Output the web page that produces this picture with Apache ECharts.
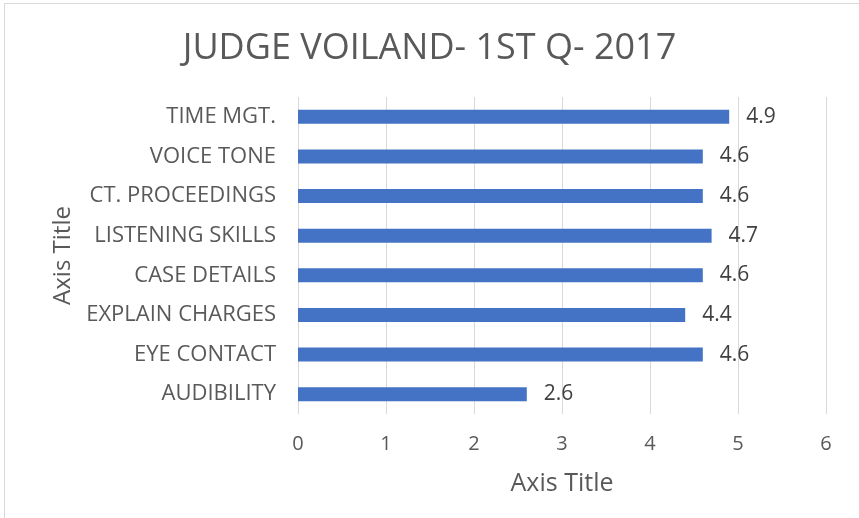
<!DOCTYPE html>
<html>
<head>
<meta charset="utf-8">
<script src="https://cdn.jsdelivr.net/npm/echarts@6/dist/echarts.min.js"></script>
<style>
html, body { margin: 0; padding: 0; background: #fff; }
#chart { width: 859px; height: 518px; }
</style>
</head>
<body>
<div id="chart"></div>
<script>
var categories = ['AUDIBILITY', 'EYE CONTACT', 'EXPLAIN CHARGES', 'CASE DETAILS',
	'LISTENING SKILLS', 'CT. PROCEEDINGS', 'VOICE TONE', 'TIME MGT.'];
var scores = [2.6, 4.6, 4.4, 4.6, 4.7, 4.6, 4.6, 4.9];
var xTicks = [0, 1, 2, 3, 4, 5, 6];

var font = '"Open Sans", "DejaVu Sans", sans-serif';
var chart = echarts.init(document.getElementById('chart'));
var option = {
	backgroundColor: '#fff',
	animation: false,
	title: {
		text: 'JUDGE VOILAND- 1ST Q- 2017',
		left: 'center',
		top: 26,
		textStyle: { fontFamily: font, fontSize: 36, fontWeight: 'normal', color: '#595959' }
	},
	graphic: [
		{
			type: 'rect',
			shape: { x: 4.5, y: 3.5, width: 860, height: 520 },
			style: { fill: 'none', stroke: '#d9d9d9', lineWidth: 1 },
			silent: true
		}
	],
	grid: { left: 298, right: 33, top: 97, bottom: 104 },
	xAxis: {
		type: 'value',
		min: xTicks[0],
		max: xTicks[xTicks.length - 1],
		interval: 1,
		name: 'Axis Title',
		nameLocation: 'middle',
		nameGap: 57,
		nameTextStyle: { fontFamily: font, fontSize: 25, color: '#595959' },
		axisLine: { show: false },
		axisTick: { show: false },
		axisLabel: { fontFamily: font, fontSize: 20, color: '#595959', margin: 20 },
		splitLine: { lineStyle: { color: '#d9d9d9', width: 1 } }
	},
	yAxis: {
		type: 'category',
		data: categories,
		name: 'Axis Title',
		nameLocation: 'middle',
		nameGap: 222,
		nameRotate: 90,
		nameTextStyle: { fontFamily: font, fontSize: 24, color: '#595959' },
		axisLine: { show: false },
		axisTick: { show: false },
		axisLabel: { fontFamily: font, fontSize: 22, color: '#595959', margin: 22 }
	},
	series: [
		{
			type: 'bar',
			data: scores,
			barWidth: 14,
			itemStyle: { color: '#4472C4' },
			label: {
				show: true,
				position: 'right',
				distance: 17,
				fontFamily: font,
				fontSize: 21,
				color: '#404040'
			}
		}
	]
};
chart.setOption(option);
</script>
</body>
</html>
